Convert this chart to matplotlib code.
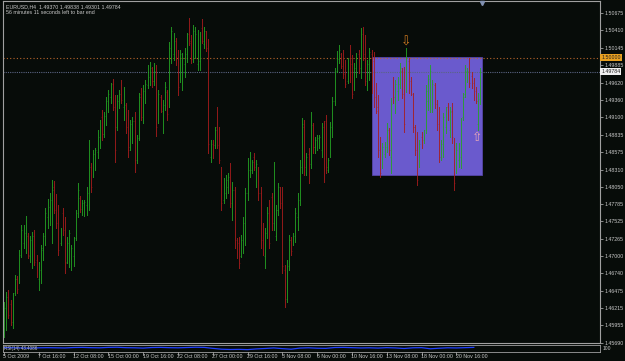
import matplotlib
matplotlib.use("Agg")
import matplotlib.pyplot as plt
from matplotlib import font_manager
from matplotlib.patches import Rectangle
from matplotlib.transforms import blended_transform_factory as btf

# ---------------- data (EURUSD H4) ----------------
high = [1.4631,1.4646,1.4649,1.4634,1.4645,1.4672,1.4670,1.4710,1.4747,1.4747,
        1.4761,1.4735,1.4731,1.4737,1.4740,1.4702,1.4691,1.4717,1.4735,1.4773,
        1.4787,1.4796,1.4815,1.4814,1.4794,1.4777,1.4743,1.4773,1.4759,1.4729,
        1.4740,1.4717,1.4729,1.4770,1.4811,1.4791,1.4785,1.4785,1.4805,1.4876,
        1.4841,1.4861,1.4864,1.4891,1.4906,1.4921,1.4918,1.4941,1.4951,1.4962,
        1.4968,1.4944,1.4944,1.4951,1.4966,1.4956,1.4932,1.4921,1.4906,1.4910,
        1.4918,1.4883,1.4947,1.4954,1.4959,1.4966,1.4989,1.4993,1.4986,1.4992,
        1.4989,1.4951,1.4944,1.4936,1.4963,1.4951,1.5024,1.5046,1.5037,1.5030,
        1.5011,1.5011,1.5007,1.5015,1.5037,1.5060,1.5034,1.5049,1.5046,1.5042,
        1.5039,1.5058,1.5046,1.5040,1.5028,1.4876,1.4876,1.4895,1.4925,1.4895,
        1.4835,1.4818,1.4823,1.4826,1.4841,1.4812,1.4805,1.4728,1.4729,1.4732,
        1.4759,1.4803,1.4848,1.4858,1.4845,1.4856,1.4845,1.4835,1.4805,1.4750,
        1.4743,1.4774,1.4785,1.4796,1.4842,1.4777,1.4811,1.4805,1.4805,1.4687,
        1.4694,1.4732,1.4729,1.4735,1.4773,1.4796,1.4845,1.4909,1.4906,1.4856,
        1.4864,1.4918,1.4901,1.4880,1.4883,1.4883,1.4901,1.4904,1.4913,1.4848,
        1.4903,1.4941,1.4984,1.5010,1.5019,1.5007,1.5011,1.4996,1.4999,1.5019,
        1.5004,1.4992,1.5007,1.5011,1.5045,1.5046,1.5034,1.4996,1.5015,1.5011,
        1.5008,1.4962,1.4944,1.4880,1.4871,1.4873,1.4901,1.4894,1.4939,1.4971,
        1.4966,1.4971,1.4992,1.4984,1.4986,1.5015,1.4999,1.4971,1.4947,1.4898,
        1.4888,1.4876,1.4888,1.4891,1.4959,1.4974,1.4989,1.4966,1.4962,1.4936,
        1.4925,1.4876,1.4916,1.4925,1.4932,1.4925,1.4932,1.4879,1.4871,1.4871,
        1.4909,1.4947,1.4989,1.4984,1.4999,1.4978,1.4969,1.4956,1.4947,1.49838]
low = [1.4578,1.4589,1.4607,1.4596,1.4592,1.4642,1.4645,1.4660,1.4699,1.4713,
       1.4705,1.4697,1.4691,1.4682,1.4687,1.4669,1.4649,1.4660,1.4694,1.4717,
       1.4743,1.4747,1.4720,1.4765,1.4743,1.4702,1.4717,1.4732,1.4675,1.4690,
       1.4684,1.4679,1.4685,1.4725,1.4759,1.4767,1.4762,1.4761,1.4762,1.4770,
       1.4797,1.4820,1.4830,1.4848,1.4864,1.4876,1.4880,1.4898,1.4918,1.4932,
       1.4921,1.4842,1.4891,1.4924,1.4932,1.4906,1.4886,1.4850,1.4861,1.4871,
       1.4827,1.4841,1.4876,1.4906,1.4901,1.4932,1.4954,1.4959,1.4956,1.4959,
       1.4882,1.4901,1.4918,1.4886,1.4921,1.4906,1.4925,1.4992,1.4996,1.4989,
       1.4944,1.4963,1.4951,1.4971,1.4993,1.5019,1.4992,1.4993,1.4999,1.4981,
       1.4981,1.5022,1.5015,1.5010,1.4856,1.4842,1.4848,1.4864,1.4864,1.4841,
       1.4770,1.4781,1.4788,1.4796,1.4774,1.4755,1.4713,1.4697,1.4682,1.4699,
       1.4705,1.4717,1.4785,1.4820,1.4826,1.4830,1.4805,1.4785,1.4713,1.4702,
       1.4682,1.4728,1.4713,1.4740,1.4740,1.4725,1.4762,1.4773,1.4675,1.4623,
       1.4631,1.4679,1.4702,1.4717,1.4722,1.4740,1.4777,1.4826,1.4823,1.4823,
       1.4811,1.4833,1.4856,1.4856,1.4861,1.4864,1.4850,1.4812,1.4826,1.4827,
       1.4850,1.4880,1.4928,1.4978,1.4992,1.4984,1.4969,1.4956,1.4962,1.4963,
       1.4939,1.4951,1.4971,1.4977,1.4969,1.4996,1.4959,1.4951,1.4966,1.4947,
       1.4925,1.4916,1.4850,1.4820,1.4833,1.4850,1.4858,1.4853,1.4826,1.4932,
       1.4916,1.4936,1.4954,1.4939,1.4888,1.4948,1.4947,1.4944,1.4888,1.4853,
       1.4808,1.4835,1.4864,1.4871,1.4886,1.4921,1.4918,1.4918,1.4924,1.4891,
       1.4842,1.4845,1.4850,1.4886,1.4906,1.4880,1.4871,1.4800,1.4826,1.4835,
       1.4833,1.4906,1.4941,1.4963,1.4956,1.4954,1.4936,1.4932,1.4891,1.49301]
open_ = [1.4590,1.4605,1.4640,1.4628,1.4600,1.4645,1.4665,1.4665,1.4705,1.4720,
         1.4735,1.4730,1.4700,1.4690,1.4732,1.4695,1.4665,1.4680,1.4710,1.4725,
         1.4760,1.4775,1.4785,1.4805,1.4772,1.4755,1.4720,1.4765,1.4740,1.4692,
         1.4700,1.4690,1.4700,1.4728,1.4765,1.4788,1.4770,1.4770,1.4778,1.4795,
         1.4835,1.4825,1.4845,1.4858,1.4880,1.4910,1.4885,1.4905,1.4930,1.4940,
         1.4960,1.4925,1.4895,1.4930,1.4955,1.4925,1.4928,1.4895,1.4865,1.4890,
         1.4905,1.4845,1.4878,1.4945,1.4910,1.4945,1.4958,1.4970,1.4985,1.4965,
         1.4978,1.4905,1.4940,1.4920,1.4928,1.4948,1.4930,1.5010,1.5005,1.5025,
         1.5000,1.4965,1.4960,1.4990,1.5005,1.5035,1.5025,1.5000,1.5010,1.4990,
         1.4995,1.5045,1.5020,1.5035,1.5015,1.4850,1.4870,1.4868,1.4895,1.4880,
         1.4830,1.4785,1.4795,1.4805,1.4820,1.4770,1.4800,1.4725,1.4720,1.4700,
         1.4715,1.4740,1.4795,1.4830,1.4830,1.4850,1.4815,1.4830,1.4795,1.4725,
         1.4700,1.4735,1.4765,1.4790,1.4750,1.4730,1.4770,1.4800,1.4780,1.4680,
         1.4635,1.4685,1.4725,1.4720,1.4728,1.4760,1.4785,1.4835,1.4895,1.4830,
         1.4855,1.4840,1.4898,1.4865,1.4865,1.4868,1.4860,1.4895,1.4905,1.4830,
         1.4855,1.4890,1.4935,1.4980,1.4998,1.5005,1.5000,1.4985,1.4965,1.5000,
         1.4990,1.4955,1.4980,1.5005,1.4985,1.5035,1.5005,1.4960,1.4975,1.5005,
         1.4995,1.4940,1.4925,1.4865,1.4835,1.4855,1.4865,1.4890,1.4850,1.4965,
         1.4935,1.4950,1.4960,1.4980,1.4945,1.4955,1.4995,1.4965,1.4945,1.4895,
         1.4870,1.4840,1.4880,1.4875,1.4890,1.4935,1.4930,1.4930,1.4958,1.4930,
         1.4900,1.4850,1.4860,1.4895,1.4925,1.4890,1.4920,1.4875,1.4830,1.4845,
         1.4850,1.4910,1.4945,1.4970,1.4985,1.4972,1.4962,1.4950,1.4900,1.49370]
close = [1.4622,1.4638,1.4612,1.4600,1.4640,1.4665,1.4650,1.4702,1.4740,1.4738,
         1.4755,1.4702,1.4725,1.4730,1.4692,1.4672,1.4685,1.4712,1.4730,1.4765,
         1.4780,1.4790,1.4800,1.4770,1.4750,1.4710,1.4738,1.4735,1.4690,1.4720,
         1.4735,1.4712,1.4725,1.4765,1.4800,1.4772,1.4780,1.4782,1.4800,1.4865,
         1.4805,1.4855,1.4860,1.4885,1.4900,1.4885,1.4912,1.4935,1.4945,1.4958,
         1.4925,1.4860,1.4935,1.4945,1.4936,1.4950,1.4892,1.4860,1.4900,1.4905,
         1.4840,1.4878,1.4940,1.4910,1.4950,1.4960,1.4985,1.4988,1.4965,1.4980,
         1.4895,1.4945,1.4922,1.4930,1.4955,1.4915,1.5015,1.5040,1.5030,1.4995,
         1.4955,1.5005,1.5000,1.5010,1.5030,1.5022,1.4998,1.5040,1.5035,1.5035,
         1.5030,1.5025,1.5040,1.5015,1.4870,1.4870,1.4852,1.4890,1.4868,1.4845,
         1.4780,1.4810,1.4815,1.4820,1.4780,1.4800,1.4725,1.4705,1.4690,1.4725,
         1.4750,1.4795,1.4840,1.4850,1.4842,1.4835,1.4840,1.4795,1.4720,1.4705,
         1.4735,1.4765,1.4720,1.4745,1.4830,1.4770,1.4805,1.4780,1.4685,1.4630,
         1.4685,1.4725,1.4708,1.4730,1.4765,1.4790,1.4835,1.4900,1.4835,1.4850,
         1.4815,1.4910,1.4865,1.4875,1.4878,1.4880,1.4895,1.4825,1.4835,1.4845,
         1.4895,1.4935,1.4978,1.5005,1.5012,1.4988,1.4975,1.4960,1.4992,1.4970,
         1.4945,1.4985,1.5000,1.4982,1.5035,1.5000,1.4965,1.4990,1.5008,1.4955,
         1.4935,1.4920,1.4860,1.4825,1.4865,1.4868,1.4895,1.4860,1.4930,1.4940,
         1.4960,1.4965,1.4985,1.4945,1.4900,1.5000,1.4955,1.4948,1.4895,1.4860,
         1.4815,1.4870,1.4868,1.4888,1.4950,1.4968,1.4980,1.4960,1.4930,1.4895,
         1.4850,1.4870,1.4910,1.4920,1.4910,1.4918,1.4880,1.4810,1.4860,1.4865,
         1.4900,1.4940,1.4980,1.4980,1.4962,1.4958,1.4940,1.4935,1.4937,1.49784]

time_label_bars = [0, 16, 32, 48, 64, 80, 96, 112, 128, 144, 160, 176, 192, 208]
time_labels = ["5 Oct 2009", "7 Oct 16:00", "12 Oct 08:00", "15 Oct 00:00",
               "19 Oct 16:00", "22 Oct 08:00", "27 Oct 00:00", "29 Oct 16:00",
               "3 Nov 08:00", "6 Nov 00:00", "10 Nov 16:00", "13 Nov 08:00",
               "18 Nov 00:00", "20 Nov 16:00"]

price_ticks = [1.50675, 1.50410, 1.50145, 1.49885, 1.49620, 1.49360, 1.49100,
               1.48835, 1.48575, 1.48310, 1.48050, 1.47785, 1.47525, 1.47265,
               1.47000, 1.46740, 1.46475, 1.46215, 1.45955, 1.45690]

level_price = 1.50000
bid_price = 1.49784
box_bars = (169.2, 220.0)
box_prices = (1.48228, 1.50005)
arrow_down = (185, 1.5024)
arrow_up = (217.6, 1.4879)

ind_bars = list(range(0, 220, 4))
ind_vals = [62, 60, 58, 55, 60, 62, 60, 58, 64, 66, 62, 60, 66, 68, 62, 60,
            56, 64, 66, 62, 60, 64, 68, 66, 52, 40, 36, 38, 34, 44, 50, 58,
            48, 40, 56, 60, 54, 52, 64, 66, 62, 58, 60, 56, 62, 58, 50, 60,
            62, 46, 54, 60, 58, 62, 66]

# ---------------- drawing ----------------
W, H = 625, 361
BG = "#070c09"
GRAY = "#a0a0a0"
TXT = "#c8c8c8"

names = {f.name for f in font_manager.fontManager.ttflist}
if "Liberation Sans Narrow" in names:
    fam = ["Liberation Sans Narrow", "DejaVu Sans"]
    k = 1.0
else:
    fam = ["Liberation Sans", "DejaVu Sans"]
    k = 0.83

fig = plt.figure(figsize=(W / 100, H / 100), dpi=100, facecolor=BG)

px0, px1 = 3, 600
py_top, py_bot = 1, 343
step = 2.175
x_first = 4.0


def px_to_bar(px):
    return (px - x_first) / step


ax = fig.add_axes([px0 / W, (H - py_bot) / H, (px1 - px0) / W, (py_bot - py_top) / H])
ax.set_facecolor(BG)
ax.set_xlim(px_to_bar(px0), px_to_bar(px1))
ax.set_ylim(1.456907, 1.508549)
for s in ax.spines.values():
    s.set_color(GRAY)
    s.set_linewidth(0.8)

ax.add_patch(Rectangle((box_bars[0], box_prices[0]), box_bars[1] - box_bars[0],
                       box_prices[1] - box_prices[0], facecolor="#6a5acd",
                       edgecolor="#5545a8", lw=0.6, zorder=1))

ax.axhline(level_price, color="#b8642a", lw=0.8, ls=(0, (1, 2)), zorder=1.5)
ax.axhline(bid_price, color="#5a6483", lw=0.8, ls=(0, (1, 1)), zorder=1.5)

n = len(high)
xs = list(range(n))
cols = ["#24a424" if c >= o else "#a81c1c" for o, c in zip(open_, close)]
ax.vlines(xs, low, high, colors=cols, lw=0.68, alpha=0.85, zorder=2,
          antialiased=False)
ax.hlines(open_, [x - 0.3 for x in xs], xs, colors=cols, lw=0.5, alpha=0.6,
          zorder=2)
ax.hlines(close, xs, [x + 0.3 for x in xs], colors=cols, lw=0.5, alpha=0.6,
          zorder=2)

ax.text(arrow_down[0], arrow_down[1], "\u21e9", color="#d07a20", fontsize=9,
        ha="center", va="center", family="DejaVu Sans", zorder=3)
ax.text(arrow_up[0], arrow_up[1], "\u21e7", color="#e8a8b8", fontsize=9,
        ha="center", va="center", family="DejaVu Sans", zorder=3)

ax.plot([px_to_bar(482)], [1.5083], marker="v", ms=3, color="#8090b0", zorder=4,
        clip_on=False)

ax.yaxis.tick_right()
ax.set_yticks(price_ticks)
ax.set_yticklabels([f"{p:.5f}" for p in price_ticks])
ax.tick_params(axis="y", length=2, width=0.6, color=GRAY, pad=1.5,
               labelsize=4.6 * k, labelcolor=TXT)
for t in ax.get_yticklabels():
    t.set_family(fam)
ax.set_xticks([])

ty = btf(ax.transAxes, ax.transData)
ax.text(1.002, level_price, f"{level_price:.5f}", transform=ty, fontsize=4.6 * k,
        family=fam, color="#202020", va="center", ha="left",
        bbox=dict(boxstyle="square,pad=0.2", fc="#e8a020", ec="none"), zorder=5,
        clip_on=False)
ax.text(1.002, bid_price, f"{bid_price:.5f}", transform=ty, fontsize=4.6 * k,
        family=fam, color="#202020", va="center", ha="left",
        bbox=dict(boxstyle="square,pad=0.2", fc="#f0f0f0", ec="none"), zorder=5,
        clip_on=False)

fig.text(6 / W, 1 - 6.5 / H, "EURUSD,H4  1.49370 1.49838 1.49301 1.49784",
         fontsize=4.6 * k, family=fam, color=TXT, va="center", ha="left")
fig.text(6 / W, 1 - 12.5 / H, "56 minutes 11 seconds left to bar end",
         fontsize=4.6 * k, family=fam, color=TXT, va="center", ha="left")

iy_top, iy_bot = 345, 352
ax2 = fig.add_axes([px0 / W, (H - iy_bot) / H, (px1 - px0) / W, (iy_bot - iy_top) / H])
ax2.set_facecolor(BG)
ax2.set_xlim(ax.get_xlim())
ax2.set_ylim(0, 100)
ax2.plot(ind_bars, ind_vals, color="#2040ff", lw=0.9)
for s in ax2.spines.values():
    s.set_color(GRAY)
    s.set_linewidth(0.6)
ax2.set_xticks([])
ax2.set_yticks([])
ax2.text(0.002, 0.5, "RSI(14) 43.4086", transform=ax2.transAxes, fontsize=3.9 * k,
         family=fam, color=TXT, va="center", ha="left")
fig.text(603 / W, 1 - 349 / H, "100", fontsize=4.4 * k, family=fam, color=TXT,
         va="center", ha="left")

tx = btf(ax.transData, fig.transFigure)
for b, lab in zip(time_label_bars, time_labels):
    ax.text(b - 0.3, 1 - 357 / H, lab, transform=tx, fontsize=4.6 * k, family=fam,
            color=TXT, va="center", ha="left", clip_on=False)
    ax.plot([b, b], [1 - 352 / H, 1 - 354.5 / H], transform=tx, color=GRAY,
            lw=0.6, clip_on=False)

fig.savefig("out.png", dpi=100, facecolor=BG)
